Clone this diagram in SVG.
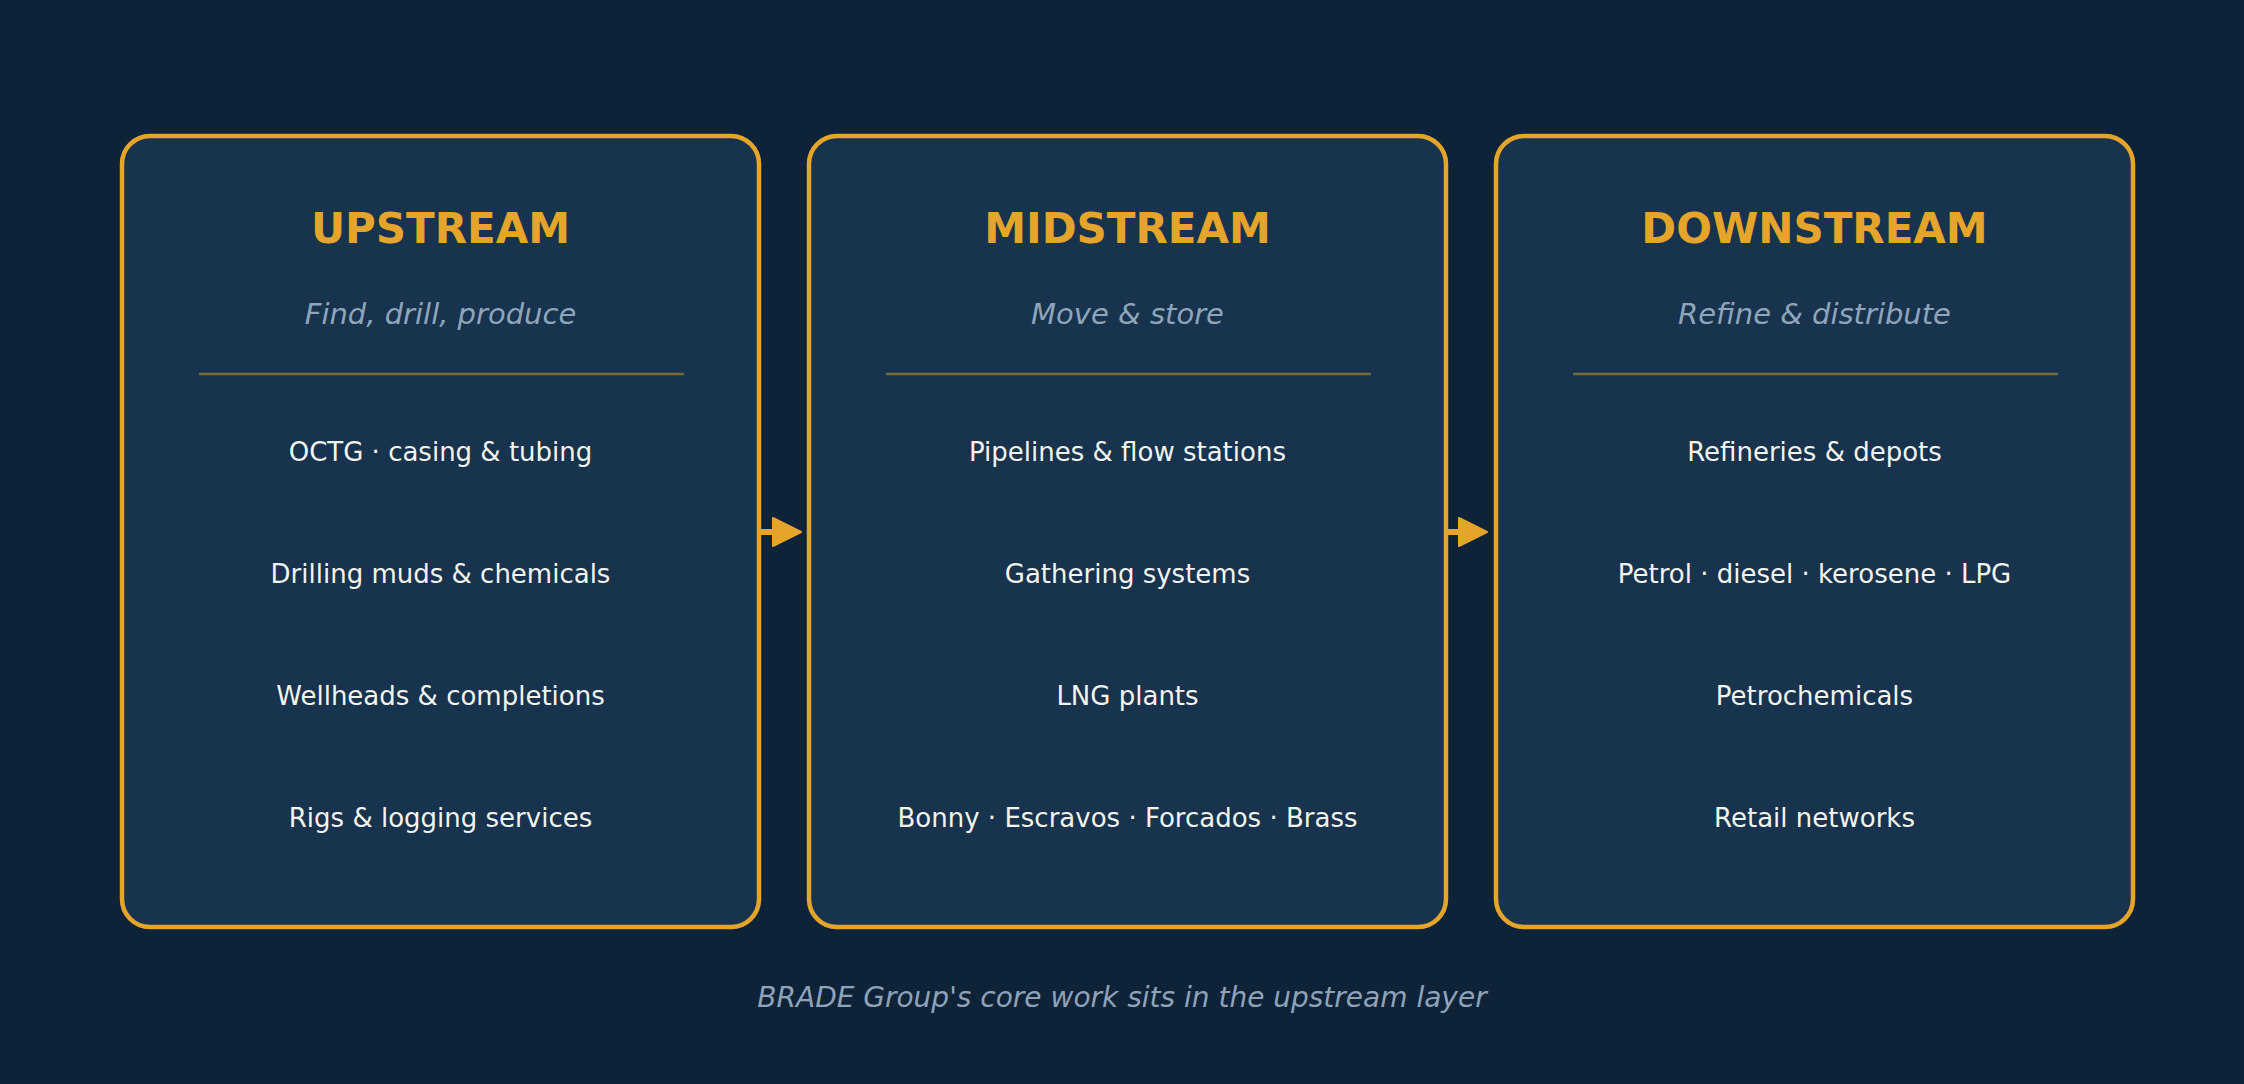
<svg xmlns="http://www.w3.org/2000/svg" width="2244" height="1084" viewBox="0 0 2244 1084">
<style>
.box{fill:#17334D;stroke:#E5A52A;stroke-width:4.5}
.title{font-family:"DejaVu Sans",sans-serif;font-weight:bold;font-size:42px;fill:#E5A52A;text-anchor:middle}
.sub{font-family:"DejaVu Sans",sans-serif;font-style:italic;font-size:29px;fill:#8FA5BA;text-anchor:middle}
.item{font-family:"DejaVu Sans",sans-serif;font-size:26px;fill:#F4F4EE;text-anchor:middle}
.div{stroke:#766A3C;stroke-width:2.5}
.foot{font-family:"DejaVu Sans",sans-serif;font-style:italic;font-size:28px;fill:#8FA3B8;text-anchor:middle}
.shaft{stroke:#E5A52A;stroke-width:6}
.head{fill:#E5A52A;stroke:#E5A52A;stroke-width:2;stroke-linejoin:round}
</style>
<rect width="2244" height="1084" fill="#0E2238"/>
<g id="upstream">
<rect class="box" x="122" y="136" width="637" height="791" rx="28"/>
<text class="title" x="440.5" y="243">UPSTREAM</text>
<text class="sub" x="440.5" y="324">Find, drill, produce</text>
<line class="div" x1="199" y1="374" x2="684" y2="374"/>
<text class="item" x="440.5" y="461">OCTG · casing &amp; tubing</text>
<text class="item" x="440.5" y="583">Drilling muds &amp; chemicals</text>
<text class="item" x="440.5" y="705">Wellheads &amp; completions</text>
<text class="item" x="440.5" y="827">Rigs &amp; logging services</text>
</g>
<g id="midstream">
<rect class="box" x="809" y="136" width="637" height="791" rx="28"/>
<text class="title" x="1127.5" y="243">MIDSTREAM</text>
<text class="sub" x="1127.5" y="324">Move &amp; store</text>
<line class="div" x1="886" y1="374" x2="1371" y2="374"/>
<text class="item" x="1127.5" y="461">Pipelines &amp; flow stations</text>
<text class="item" x="1127.5" y="583">Gathering systems</text>
<text class="item" x="1127.5" y="705">LNG plants</text>
<text class="item" x="1127.5" y="827">Bonny · Escravos · Forcados · Brass</text>
</g>
<g id="downstream">
<rect class="box" x="1496" y="136" width="637" height="791" rx="28"/>
<text class="title" x="1814.5" y="243">DOWNSTREAM</text>
<text class="sub" x="1814.5" y="324">Refine &amp; distribute</text>
<line class="div" x1="1573" y1="374" x2="2058" y2="374"/>
<text class="item" x="1814.5" y="461">Refineries &amp; depots</text>
<text class="item" x="1814.5" y="583">Petrol · diesel · kerosene · LPG</text>
<text class="item" x="1814.5" y="705">Petrochemicals</text>
<text class="item" x="1814.5" y="827">Retail networks</text>
</g>
<g id="connectors">
<line class="shaft" x1="759" y1="532" x2="776" y2="532"/>
<polygon class="head" points="773,518 801,532 773,546"/>
<line class="shaft" x1="1446" y1="532" x2="1462" y2="532"/>
<polygon class="head" points="1459,518 1487,532 1459,546"/>
</g>
<text class="foot" x="1122" y="1007">BRADE Group's core work sits in the upstream layer</text>
</svg>
